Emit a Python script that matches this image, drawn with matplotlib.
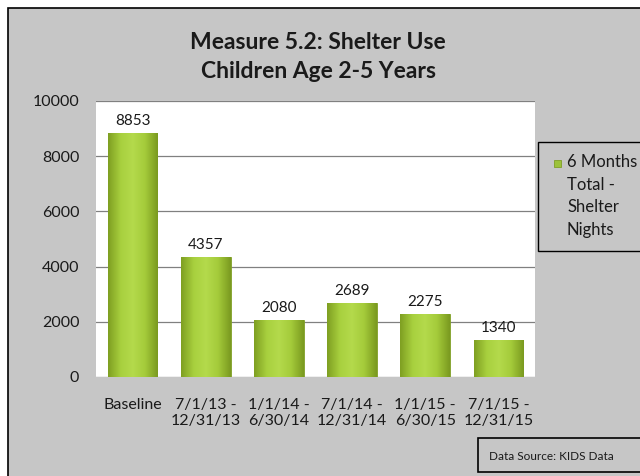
import numpy as np
import matplotlib.pyplot as plt
from matplotlib.patches import Rectangle
from matplotlib.colors import LinearSegmentedColormap

plt.rcParams['font.family'] = ['Lato', 'DejaVu Sans']

# data
categories = ['Baseline', '7/1/13 -\n12/31/13', '1/1/14 -\n6/30/14',
              '7/1/14 -\n12/31/14', '1/1/15 -\n6/30/15', '7/1/15 -\n12/31/15']
values = [8853, 4357, 2080, 2689, 2275, 1340]
series_name = '6 Months\nTotal -\nShelter\nNights'
title = 'Measure 5.2: Shelter Use\nChildren Age 2-5 Years'
source = 'Data Source: KIDS Data'

bg = '#c6c6c6'
bar_col = '#9cc23a'
fig = plt.figure(figsize=(6.4, 4.76), dpi=100)
fig.patch.set_facecolor('white')

# outer chart frame (runs off the right/bottom edges)
fig.patches.append(Rectangle((8 / 640, -0.05), 1.0, 1 - 8 / 476 + 0.05,
                             transform=fig.transFigure, facecolor=bg,
                             edgecolor='black', linewidth=1.2, zorder=-2))

ax = fig.add_axes([96 / 640, 1 - 377 / 476, (535 - 96) / 640, (377 - 101) / 476])
ax.set_facecolor('white')

x = np.arange(len(values))
bars = ax.bar(x, values, width=0.68, color=bar_col, zorder=2,
              edgecolor='#7f9e26', linewidth=0.6)

# cylinder-like shading on each bar
cmap = LinearSegmentedColormap.from_list('g', ['#7f9f22', '#a8d03e', '#b4da4c', '#a4cb3a', '#7b9a20'])
grad = np.linspace(0, 1, 64).reshape(1, -1)
for b in bars:
    im = ax.imshow(grad, extent=[b.get_x(), b.get_x() + b.get_width(), 0, b.get_height()],
                   aspect='auto', cmap=cmap, zorder=2.5, interpolation='bicubic')
    im.set_clip_path(b)

for xi, v in zip(x, values):
    ax.text(xi, v + 180, str(v), ha='center', va='bottom', fontsize=11, color='#1a1a1a', zorder=3)

ax.set_xlim(-0.5, len(values) - 0.5)
ax.set_ylim(0, 10000)
ax.set_yticks(np.arange(0, 10001, 2000))
ax.yaxis.grid(True, color='#808080', linewidth=0.9, zorder=1)
ax.set_axisbelow(True)
ax.set_xticks(x)
ax.set_xticklabels(categories)
ax.tick_params(axis='x', length=0, pad=15, labelsize=11.5, colors='#1a1a1a')
ax.tick_params(axis='y', length=0, pad=12, labelsize=11.5, colors='#1a1a1a')
for s in ax.spines.values():
    s.set_visible(False)

fig.text(0.497, 1 - 57 / 476, title, ha='center', va='center', fontsize=16.5,
         fontweight='bold', color='#1a1a1a', linespacing=1.42)

# legend box: swatch on the first line, text left aligned
fig.patches.append(Rectangle((538 / 640, 1 - 251 / 476), 0.2, (251 - 142) / 476,
                             transform=fig.transFigure, facecolor=bg,
                             edgecolor='black', linewidth=1.0, zorder=-1))
fig.patches.append(Rectangle((554 / 640, 1 - 167 / 476), 7 / 640, 7 / 476,
                             transform=fig.transFigure, facecolor=bar_col,
                             edgecolor='#7f9e26', linewidth=0.6))
fig.text(567 / 640, 1 - 154 / 476, series_name, ha='left', va='top', fontsize=12,
         color='#1a1a1a', linespacing=1.5)

# data source box
fig.patches.append(Rectangle((478 / 640, 1 - 472 / 476), 0.3, (472 - 438) / 476,
                             transform=fig.transFigure, facecolor=bg,
                             edgecolor='black', linewidth=1.2, zorder=-1))
fig.text(489 / 640, 1 - 456 / 476, source, ha='left', va='center', fontsize=8.5, color='#1a1a1a')

fig.savefig('out.png', dpi=100, facecolor=fig.get_facecolor())
